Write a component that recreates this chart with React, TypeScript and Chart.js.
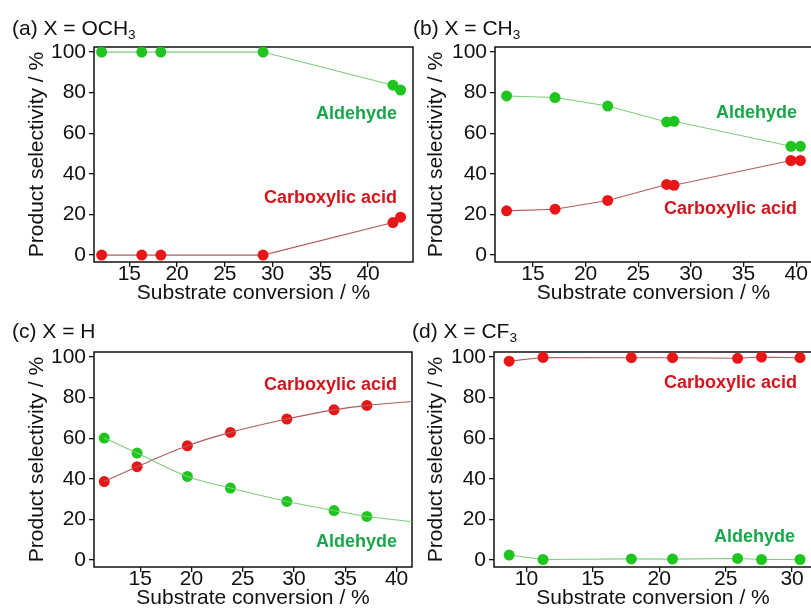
import React, { useEffect, useRef } from 'react';
import { Chart, registerables } from 'chart.js';

Chart.register(...registerables);

// ---------- data ----------
const yTicks = [0, 20, 40, 60, 80, 100];
const xTicksABC = [15, 20, 25, 30, 35, 40];
const xTicksD = [10, 15, 20, 25, 30];

// (a) X = OCH3
const aConv = [12.1, 16.3, 18.3, 29.0, 42.6, 43.4];
const aAldehyde = [100, 100, 100, 100, 83.7, 81.3];
const aAcid = [0, 0, 0, 0, 16.0, 18.7];

// (b) X = CH3
const bConv = [12.5, 17.1, 22.1, 27.7, 28.4, 39.5, 40.4];
const bAldehyde = [78.4, 77.6, 73.4, 65.6, 65.9, 53.6, 53.6];
const bAcid = [21.8, 22.6, 26.9, 34.8, 34.4, 46.6, 46.6];

// (c) X = H
const cConv = [11.5, 14.7, 19.6, 23.8, 29.3, 33.9, 37.1];
const cAldehyde = [60.1, 52.7, 41.2, 35.5, 28.9, 24.4, 21.5];
const cAcid = [38.7, 46.0, 56.3, 62.9, 69.5, 74.0, 76.2];
// fitted trend curves (incl. end at right edge)
const cFitConv = [11.5, 14.7, 19.6, 23.8, 29.3, 33.9, 37.1, 41.5];
const cFitAldehyde = [60.1, 52.7, 41.2, 35.5, 28.9, 24.4, 21.5, 19.0];
const cFitAcid = [38.7, 46.0, 56.3, 62.9, 69.5, 74.0, 76.2, 78.1];

// (d) X = CF3
const dConv = [8.7, 11.25, 17.9, 21.0, 25.9, 27.7, 30.6];
const dAcid = [98.0, 99.8, 99.7, 99.7, 99.4, 100, 99.7];
const dAldehyde = [2.5, 0.3, 0.6, 0.5, 0.8, 0.3, 0.3];

// ---------- style ----------
const FONT = "'Liberation Sans', Arial, Helvetica, sans-serif";
const GREEN_PT = '#1fc41f';
const GREEN_LINE = '#7ccf7c';
const RED_PT = '#e81616';
const RED_LINE = '#b35a5a';
const GREEN_TXT = '#1aa64b';
const RED_TXT = '#d4141c';
const INK = '#111111';

const pts = (xs: number[], ys: number[]) => xs.map((x, i) => ({ x, y: ys[i] }));

const framePlugin = {
  id: 'frame',
  beforeDatasetsDraw(chart: any) {
    const { ctx, chartArea } = chart;
    const { left, top, right, bottom } = chartArea;
    ctx.save();
    ctx.strokeStyle = INK;
    ctx.lineWidth = 1.5;
    ctx.strokeRect(left, top, right - left, bottom - top);
    ctx.restore();
  },
};

type Box = { x: number; y: number; w: number; h: number };
type Plot = { l: number; t: number; r: number; b: number };

function lineSet(xs: number[], ys: number[], line: string, pt: string) {
  return {
    data: pts(xs, ys),
    showLine: true,
    borderColor: line,
    borderWidth: 1.1,
    backgroundColor: pt,
    pointBackgroundColor: pt,
    pointBorderColor: pt,
    pointBorderWidth: 0,
    pointRadius: 5.5,
    tension: 0,
  };
}

function curveSet(xs: number[], ys: number[], line: string) {
  return {
    data: pts(xs, ys),
    showLine: true,
    borderColor: line,
    borderWidth: 1.1,
    pointRadius: 0,
    cubicInterpolationMode: 'monotone',
  };
}

function pointSet(xs: number[], ys: number[], pt: string) {
  return {
    data: pts(xs, ys),
    showLine: false,
    backgroundColor: pt,
    pointBackgroundColor: pt,
    pointBorderColor: pt,
    pointBorderWidth: 0,
    pointRadius: 5.5,
  };
}

function Panel(props: {
  box: Box;
  plot: Plot;
  xMin: number;
  xMax: number;
  xTicks: number[];
  datasets: any[];
  yTitlePad: number;
}) {
  const ref = useRef<HTMLCanvasElement | null>(null);
  const { box, plot, xMin, xMax, xTicks, datasets, yTitlePad } = props;
  useEffect(() => {
    if (!ref.current) return;
    const tickFont = { family: FONT, size: 21 };
    const grid = {
      display: true,
      drawOnChartArea: false,
      drawTicks: true,
      tickLength: 5,
      color: INK,
      lineWidth: 1.3,
    };
    const chart = new Chart(ref.current, {
      type: 'scatter',
      data: { datasets },
      plugins: [framePlugin],
      options: {
        animation: false,
        responsive: false,
        maintainAspectRatio: false,
        layout: {
          padding: {
            left: 0,
            top: plot.t - box.y,
            right: box.x + box.w - plot.r,
            bottom: 0,
          },
        },
        plugins: {
          legend: { display: false },
          tooltip: { enabled: false },
        },
        scales: {
          x: {
            type: 'linear',
            min: xMin,
            max: xMax,
            afterBuildTicks: (s: any) => {
              s.ticks = xTicks.map((v) => ({ value: v }));
            },
            afterFit: (s: any) => {
              s.height = box.y + box.h - plot.b;
            },
            ticks: {
              font: tickFont,
              color: INK,
              padding: -5,
              maxRotation: 0,
              autoSkip: false,
            },
            grid,
            border: { display: false },
            title: {
              display: true,
              text: 'Substrate conversion / %',
              font: tickFont,
              color: INK,
              padding: { top: 0, bottom: 4.5 },
            },
          },
          y: {
            type: 'linear',
            min: -3.4,
            max: 102.5,
            afterBuildTicks: (s: any) => {
              s.ticks = yTicks.map((v) => ({ value: v }));
            },
            afterFit: (s: any) => {
              s.width = plot.l - box.x;
            },
            ticks: { font: tickFont, color: INK, padding: 3 },
            grid,
            border: { display: false },
            title: {
              display: true,
              text: 'Product selectivity / %',
              font: tickFont,
              color: INK,
              padding: { top: yTitlePad, bottom: 0 },
            },
          },
        },
      } as any,
    });
    return () => chart.destroy();
  }, []);
  return (
    <canvas
      ref={ref}
      width={box.w}
      height={box.h}
      style={{ position: 'absolute', left: box.x, top: box.y, width: box.w, height: box.h }}
    />
  );
}

function Title(props: { x: number; cy: number; children: React.ReactNode }) {
  const size = 21;
  return (
    <div
      style={{
        position: 'absolute',
        left: props.x,
        top: props.cy - 10.2,
        fontFamily: FONT,
        fontSize: size,
        lineHeight: `${size}px`,
        color: INK,
        whiteSpace: 'nowrap',
      }}
    >
      {props.children}
    </div>
  );
}

function Label(props: { right: number; cy: number; color: string; text: string }) {
  const size = 18;
  return (
    <div
      style={{
        position: 'absolute',
        right: 811 - props.right,
        top: props.cy - 8.8,
        fontFamily: FONT,
        fontSize: size,
        fontWeight: 'bold',
        lineHeight: `${size}px`,
        color: props.color,
        whiteSpace: 'nowrap',
      }}
    >
      {props.text}
    </div>
  );
}

const Sub = ({ children }: { children: React.ReactNode }) => (
  <sub style={{ fontSize: '0.65em', verticalAlign: '-0.3em', lineHeight: 0 }}>{children}</sub>
);

export default function App() {
  return (
    <div
      style={{
        position: 'fixed',
        left: 0,
        top: 0,
        width: 811,
        height: 615,
        overflow: 'hidden',
        background: '#ffffff',
      }}
    >
      <Panel
        box={{ x: 0, y: 0, w: 420, h: 310 }}
        plot={{ l: 94, t: 47, r: 413, b: 262 }}
        xMin={11.3}
        xMax={44.7}
        xTicks={xTicksABC}
        yTitlePad={24.4}
        datasets={[lineSet(aConv, aAldehyde, GREEN_LINE, GREEN_PT), lineSet(aConv, aAcid, RED_LINE, RED_PT)]}
      />
      <Panel
        box={{ x: 405, y: 0, w: 415, h: 310 }}
        plot={{ l: 495, t: 47, r: 812, b: 262 }}
        xMin={11.4}
        xMax={41.5}
        xTicks={xTicksABC}
        yTitlePad={18.4}
        datasets={[lineSet(bConv, bAldehyde, GREEN_LINE, GREEN_PT), lineSet(bConv, bAcid, RED_LINE, RED_PT)]}
      />
      <Panel
        box={{ x: 0, y: 305, w: 420, h: 310 }}
        plot={{ l: 94, t: 352, r: 412, b: 567 }}
        xMin={10.5}
        xMax={41.5}
        xTicks={xTicksABC}
        yTitlePad={24.4}
        datasets={[
          curveSet(cFitConv, cFitAldehyde, GREEN_LINE),
          curveSet(cFitConv, cFitAcid, RED_LINE),
          pointSet(cConv, cAldehyde, GREEN_PT),
          pointSet(cConv, cAcid, RED_PT),
        ]}
      />
      <Panel
        box={{ x: 405, y: 305, w: 415, h: 310 }}
        plot={{ l: 494, t: 352, r: 812, b: 567 }}
        xMin={7.56}
        xMax={31.5}
        xTicks={xTicksD}
        yTitlePad={18.4}
        datasets={[lineSet(dConv, dAcid, RED_LINE, RED_PT), lineSet(dConv, dAldehyde, GREEN_LINE, GREEN_PT)]}
      />

      <Title x={12} cy={27.5}>
        (a) X = OCH<Sub>3</Sub>
      </Title>
      <Title x={413} cy={27.5}>
        (b) X = CH<Sub>3</Sub>
      </Title>
      <Title x={12} cy={330.5}>
        (c) X = H
      </Title>
      <Title x={412} cy={330.5}>
        (d) X = CF<Sub>3</Sub>
      </Title>

      <Label right={397} cy={113} color={GREEN_TXT} text="Aldehyde" />
      <Label right={397} cy={197} color={RED_TXT} text="Carboxylic acid" />
      <Label right={797} cy={112} color={GREEN_TXT} text="Aldehyde" />
      <Label right={797} cy={208} color={RED_TXT} text="Carboxylic acid" />
      <Label right={397} cy={384} color={RED_TXT} text="Carboxylic acid" />
      <Label right={397} cy={541} color={GREEN_TXT} text="Aldehyde" />
      <Label right={797} cy={381.7} color={RED_TXT} text="Carboxylic acid" />
      <Label right={795} cy={535.7} color={GREEN_TXT} text="Aldehyde" />
    </div>
  );
}
